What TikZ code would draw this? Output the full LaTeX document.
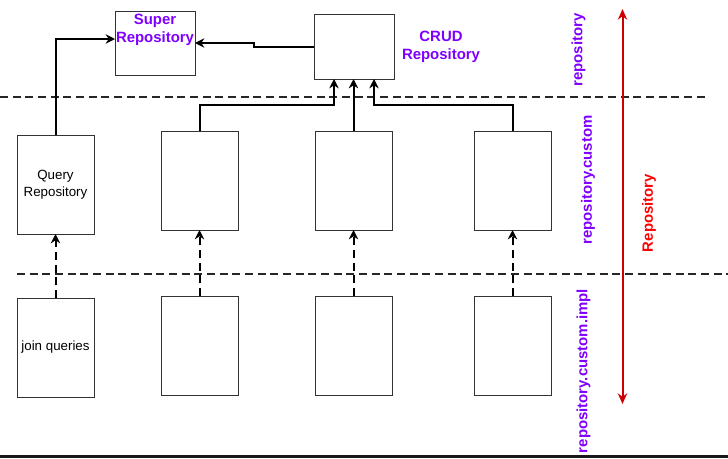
\documentclass[tikz,border=0pt]{standalone}
\usepackage{fontspec}
\setmainfont{Liberation Sans}
\usetikzlibrary{arrows.meta,calc}
\definecolor{purp}{HTML}{7F00FF}
\definecolor{dred}{HTML}{CC0000}
\definecolor{bord}{HTML}{333333}
\tikzset{
  box/.style={draw=bord,line width=0.75pt,fill=white,inner sep=0pt,outer sep=0pt,
    minimum width=57.75pt,minimum height=74.25pt,font=\fontsize{10}{12.5}\selectfont,align=center},
  arr/.style={line width=1.5pt,-{Stealth[length=7pt,width=7pt]}},
  darr/.style={arr,dash pattern=on 6pt off 3.5pt},
  sep/.style={line width=1.5pt,dash pattern=on 6pt off 3.5pt,draw=black!85},
  ptext/.style={text=purp,font=\bfseries\fontsize{11.2}{13.8}\selectfont,align=center,inner sep=0pt},
}
\begin{document}
\begin{tikzpicture}[x=0.75pt,y=-0.75pt]
\useasboundingbox (0,0) rectangle (728,458);
% separators
\draw[sep] (0,96.5) -- (708,96.5);
\draw[sep] (17,273.5) -- (728,273.5);
\draw[line width=2.2pt,draw=black!90] (0,456.5) -- (728,456.5);
% top boxes
\node[box,minimum width=60pt,minimum height=48pt,
  label={[ptext,anchor=north,yshift=-2pt]north:Super\\Repository}] (sup) at (155,43) {};
\node[box,minimum width=60pt,minimum height=48.75pt] (crud) at (354,46.5) {};
\node[ptext] (crudl) at (441,47) {CRUD\\Repository};
% middle row
\node[box] (q) at (55.5,184.5) {Query\\Repository};
\node[box] (m2) at (199.5,180.5) {};
\node[box] (m3) at (353.5,180.5) {};
\node[box] (m4) at (512.5,180.5) {};
% bottom row
\node[box] (j) at (55.5,347.5) {join queries};
\node[box] (b2) at (199.5,345.5) {};
\node[box] (b3) at (353.5,345.5) {};
\node[box] (b4) at (512.5,345.5) {};
% connectors
\draw[arr] (q.north) |- ($(sup.west)+(0,-4)$);
\draw[arr] (crud.west) -- ($(crud.west)+(-60,0)$) |- (sup.east);
\draw[arr] (m2.north) -- ++(0,-26) -| ($(crud.south)+(-20,0)$);
\draw[arr] (m3.north) -- (m3.north |- crud.south);
\draw[arr] (m4.north) -- ++(0,-26) -| ($(crud.south)+(20,0)$);
\draw[darr] (j.north) -- (q.south);
\draw[darr] (b2.north) -- (m2.south);
\draw[darr] (b3.north) -- (m3.south);
\draw[darr] (b4.north) -- (m4.south);
% red range arrow
\coordinate (rtop) at (622.5,9);
\coordinate (rbot) at (622.5,404);
\draw[line width=1.5pt,draw=dred,{Stealth[length=8pt,width=7pt]}-{Stealth[length=8pt,width=7pt]}] (rtop) -- (rbot);
\node[text=red,font=\bfseries\fontsize{11.2}{13}\selectfont,rotate=90,inner sep=0pt] (rl) at (649,213) {Repository};
% package labels
\node[ptext,rotate=90] (l1) at (578.5,50) {repository};
\node[ptext,rotate=90] (l2) at (588,180) {repository.custom};
\node[ptext,rotate=90] (l3) at (583.5,371) {repository.custom.impl};
\end{tikzpicture}
\end{document}
